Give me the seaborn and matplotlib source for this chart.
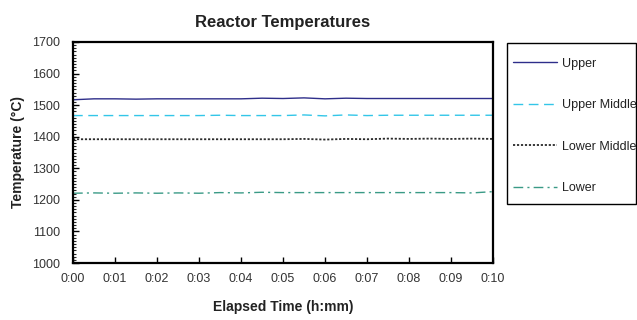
import numpy as np
import pandas as pd
import matplotlib
matplotlib.use("Agg")
import matplotlib.pyplot as plt
import seaborn as sns
from matplotlib.patches import Rectangle
from matplotlib.ticker import MultipleLocator, FuncFormatter

# Elapsed time in minutes (sampled every half minute)
minutes = [0.0, 0.5, 1.0, 1.5, 2.0, 2.5, 3.0, 3.5, 4.0, 4.5, 5.0,
           5.5, 6.0, 6.5, 7.0, 7.5, 8.0, 8.5, 9.0, 9.5, 10.0]

upper = [1517, 1520, 1520, 1519, 1520, 1520, 1520, 1520, 1520, 1522, 1521,
         1523, 1520, 1522, 1521, 1521, 1521, 1521, 1521, 1521, 1521]
upper_middle = [1467, 1467, 1467, 1467, 1467, 1467, 1467, 1468, 1467, 1467, 1467,
                1469, 1466, 1469, 1467, 1468, 1468, 1468, 1468, 1468, 1468]
lower_middle = [1392, 1392, 1392, 1392, 1392, 1392, 1392, 1392, 1392, 1392, 1392,
                1393, 1391, 1393, 1392, 1394, 1393, 1394, 1393, 1394, 1393]
lower = [1221, 1222, 1221, 1222, 1221, 1222, 1221, 1223, 1222, 1224, 1223,
         1223, 1223, 1223, 1223, 1223, 1223, 1223, 1223, 1222, 1226]

series_names = ["Upper", "Upper Middle", "Lower Middle", "Lower"]
x_tick_labels = ["0:00", "0:01", "0:02", "0:03", "0:04", "0:05",
                 "0:06", "0:07", "0:08", "0:09", "0:10"]

df = pd.DataFrame({
    "minutes": minutes * 4,
    "temp": upper + upper_middle + lower_middle + lower,
    "sensor": sum([[n] * len(minutes) for n in series_names], []),
})

sns.set_style("white")
plt.rcParams["font.family"] = ["Liberation Sans", "DejaVu Sans"]

W, H = 637, 320
fig = plt.figure(figsize=(W / 100, H / 100), dpi=100)
ax = fig.add_axes([73 / W, 1 - 263 / H, (493 - 73) / W, (263 - 42) / H])

styles = {
    "Upper": dict(color="#2E2E8A", linestyle="-", lw=1.0),
    "Upper Middle": dict(color="#33C6E8", linestyle=(0, (7, 4)), lw=1.0),
    "Lower Middle": dict(color="#2A2A2A", linestyle=(0, (1.2, 1.0)), lw=1.3),
    "Lower": dict(color="#3A9A86", linestyle=(0, (7, 3, 1.5, 3)), lw=1.0),
}

for name in series_names:
    sub = df[df["sensor"] == name]
    sns.lineplot(data=sub, x="minutes", y="temp", ax=ax, label=name, **styles[name])

ax.set_xlim(0, 10)
ax.set_ylim(1000, 1700)
ax.xaxis.set_major_locator(MultipleLocator(1))
ax.xaxis.set_major_formatter(FuncFormatter(
    lambda v, p: x_tick_labels[int(round(v))] if 0 <= round(v) < len(x_tick_labels) else ""))
ax.yaxis.set_major_locator(MultipleLocator(100))
ax.yaxis.set_minor_locator(MultipleLocator(10))

for s in ax.spines.values():
    s.set_color("black")
    s.set_linewidth(1.6)

ax.tick_params(axis="both", which="major", direction="in", length=4, width=1,
               labelsize=9, colors="black")
ax.tick_params(axis="x", which="major", pad=7, bottom=True)
ax.tick_params(axis="y", which="major", pad=9.5, left=True)
ax.tick_params(axis="y", which="minor", direction="in", length=2, width=0.8, left=True)
for lbl in ax.get_xticklabels() + ax.get_yticklabels():
    lbl.set_color("#333333")

ax.set_xlabel("Elapsed Time (h:mm)", fontsize=10, fontweight="bold", labelpad=11,
              color="#222222")
ax.set_ylabel("Temperature (°C)", fontsize=10, fontweight="bold", labelpad=5,
              color="#222222")
ax.set_title("Reactor Temperatures", fontsize=12, fontweight="bold", pad=11,
             color="#222222")

# Legend to the right of the plot, with its own box
handles, labels = ax.get_legend_handles_labels()
ax.legend_.remove()
fig.patches.append(Rectangle((507 / W, 1 - 204 / H), (W - 1 - 507) / W, (204 - 43) / H,
                             transform=fig.transFigure, facecolor="white",
                             edgecolor="black", linewidth=1.0, zorder=0))
leg = fig.legend(handles, labels, loc="upper left",
                 bbox_to_anchor=(513 / W, 1 - 57.5 / H),
                 frameon=False, fontsize=9,
                 labelspacing=2.37, handlelength=3.5, handletextpad=0.4,
                 borderpad=0, borderaxespad=0)
for t in leg.get_texts():
    t.set_color("#222222")

fig.savefig("out.png", dpi=100)
